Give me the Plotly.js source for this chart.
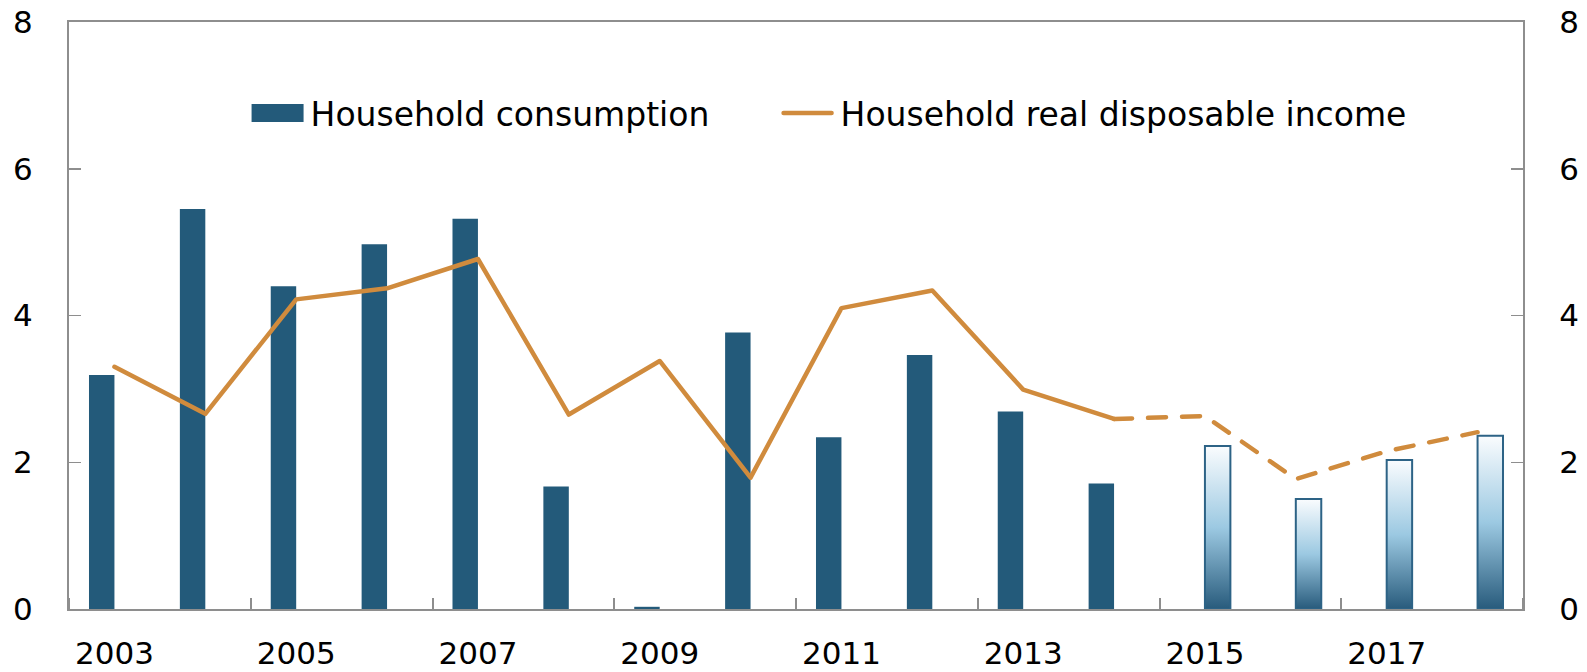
<!DOCTYPE html>
<html>
<head>
<meta charset="utf-8">
<script src="https://cdn.plot.ly/plotly-3.0.1.min.js"></script>
<style>html,body{margin:0;padding:0;background:#fff;}#chart{width:1587px;height:672px;}</style>
</head>
<body>
<div id="chart"></div>
<script>
// Data
var years = [2003,2004,2005,2006,2007,2008,2009,2010,2011,2012,2013,2014,2015,2016,2017,2018];
var consumptionHist = [3.19,5.45,4.40,4.97,5.32,1.67,0.03,3.77,2.34,3.46,2.69,1.71,null,null,null,null];
var consumptionProj = [null,null,null,null,null,null,null,null,null,null,null,null,2.22,1.50,2.03,2.36];
var incomeHist = [3.30,2.66,4.22,4.37,4.77,2.65,3.38,1.79,4.10,4.34,2.99,2.59,null,null,null,null];
var incomeProj = [null,null,null,null,null,null,null,null,null,null,null,2.59,2.63,1.77,2.15,2.41];
var xTickLabels = ['2003','2005','2007','2009','2011','2013','2015','2017'];
var xTickVals = [2003,2005,2007,2009,2011,2013,2015,2017];
var yTicks = [0,2,4,6,8];

var barDark = '#235A7A';
var lineCol = '#D08B3D';
var axisCol = '#8E8E8E';
var fontFam = 'DejaVu Sans, Liberation Sans, Arial, sans-serif';

var traces = [
  {type:'bar', x: years, y: consumptionHist, name:'Household consumption',
   marker:{color: barDark, line:{width:0}}, showlegend:true, hoverinfo:'skip'},
  {type:'bar', x: years, y: consumptionProj, name:'Household consumption (projection)',
   marker:{color:'#9ECAE3', line:{color:'#2D6386', width:2}}, showlegend:false, hoverinfo:'skip'},
  {type:'scatter', mode:'lines', x: years, y: incomeHist, name:'Household real disposable income',
   line:{color: lineCol, width:4.5}, showlegend:true, hoverinfo:'skip'},
  {type:'scatter', mode:'lines', x: years, y: incomeProj, name:'Household real disposable income (projection)',
   line:{color: lineCol, width:4.5, dash:'18px,16px'}, showlegend:false, yaxis:'y2', hoverinfo:'skip'}
];

var layout = {
  width:1587, height:672,
  margin:{l:69, r:64, t:22, b:63},
  paper_bgcolor:'#fff', plot_bgcolor:'#fff',
  font:{family: fontFam, size:31, color:'#000'},
  barmode:'group', bargap:0.44, bargroupgap:0,
  showlegend:true,
  legend:{orientation:'h', x:0.118, xanchor:'left', y:0.845, yanchor:'middle',
          bgcolor:'rgba(0,0,0,0)', font:{family: fontFam, size:33, color:'#000'},
          entrywidth:455, entrywidthmode:'pixels', itemwidth:60, traceorder:'normal'},
  xaxis:{range:[2002.5,2018.5], tickvals:xTickVals, ticktext:xTickLabels, ticks:'',
         showline:true, linecolor:axisCol, linewidth:2, mirror:true, showgrid:false, zeroline:false,
         ticklabelstandoff:16, fixedrange:true,
         minor:{ticks:'inside', tick0:2002.5, dtick:2, ticklen:11, tickcolor:axisCol, tickwidth:2, showgrid:false}},
  yaxis:{range:[0,8], tickvals:yTicks, ticks:'inside', ticklen:12, tickcolor:axisCol, tickwidth:1.5,
         showline:true, linecolor:axisCol, linewidth:2, showgrid:false, zeroline:false,
         ticklabelstandoff:28, fixedrange:true},
  yaxis2:{range:[0,8], tickvals:yTicks, ticks:'inside', ticklen:12, tickcolor:axisCol, tickwidth:1.5,
          overlaying:'y', side:'right', showline:true, linecolor:axisCol, linewidth:2,
          showgrid:false, zeroline:false, ticklabelstandoff:28, fixedrange:true}
};

Plotly.newPlot('chart', traces, layout, {staticPlot:true, displayModeBar:false}).then(function(gd){
  var svg = gd.querySelector('.main-svg');
  var ns = 'http://www.w3.org/2000/svg';
  var defs = svg.querySelector('defs');
  var grad = document.createElementNS(ns,'linearGradient');
  grad.setAttribute('id','projGrad');
  grad.setAttribute('x1','0'); grad.setAttribute('y1','0');
  grad.setAttribute('x2','0'); grad.setAttribute('y2','1');
  [['0','#FAFCFE'],['0.5','#9CC9E2'],['1','#285B7C']].forEach(function(s){
    var st = document.createElementNS(ns,'stop');
    st.setAttribute('offset', s[0]); st.setAttribute('stop-color', s[1]);
    grad.appendChild(st);
  });
  defs.appendChild(grad);
  var barTraces = gd.querySelectorAll('.barlayer .trace');
  if (barTraces.length > 1) {
    barTraces[1].querySelectorAll('path').forEach(function(p){ p.style.fill = 'url(#projGrad)'; });
  }
  gd.querySelectorAll('.scatterlayer .js-line').forEach(function(p){
    p.style.strokeLinecap = 'round'; p.style.strokeLinejoin = 'round';
  });
  // let legend text show in full (no clipping to entry width)
  gd.querySelectorAll('.legend [clip-path]').forEach(function(e){ e.removeAttribute('clip-path'); });
  // widen legend swatches: place them just left of each legend text
  gd.querySelectorAll('.legend .traces').forEach(function(it, idx){
    var txt = it.querySelector('text.legendtext');
    if (!txt) return;
    var tx = parseFloat(txt.getAttribute('x')) || 40;
    var x0 = tx - 59, x1 = tx - 7;
    var linePaths = it.querySelectorAll('.legendlines path');
    if (linePaths.length) {
      linePaths.forEach(function(p){
        p.setAttribute('d','M'+(x0+2)+',0H'+(x1-2));
        p.removeAttribute('transform');
        p.style.strokeLinecap = 'round';
      });
    } else {
      it.querySelectorAll('.legendpoints path').forEach(function(p){
        p.setAttribute('d','M'+x0+',9H'+x1+'V-9H'+x0+'Z');
        p.removeAttribute('transform');
      });
    }
  });
});
</script>
</body>
</html>
